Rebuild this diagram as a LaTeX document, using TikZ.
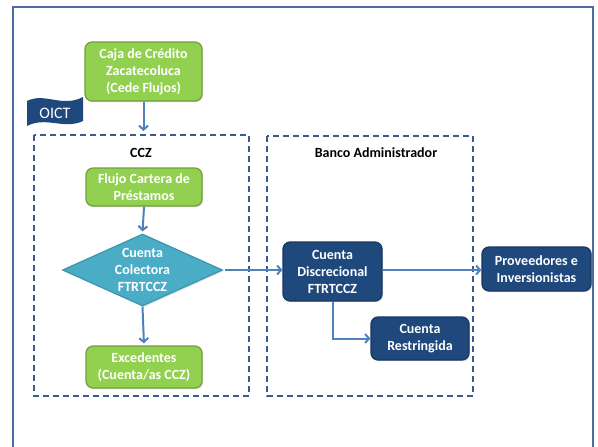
\documentclass[tikz,border=0pt]{standalone}
\usepackage{fontspec}
\setmainfont{Carlito}
\usetikzlibrary{shapes.geometric,arrows.meta,shadows}
\definecolor{gfill}{HTML}{92D050}
\definecolor{gline}{HTML}{71A03A}
\definecolor{bfill}{HTML}{1F497D}
\definecolor{bline}{HTML}{17375E}
\definecolor{tfill}{HTML}{4BACC6}
\definecolor{tline}{HTML}{3A95AE}
\definecolor{arr}{HTML}{4F81BD}
\definecolor{frame}{HTML}{4A6C9E}
\definecolor{dash}{HTML}{3A5C8C}
\tikzset{
  base/.style={rounded corners=7pt, line width=1.2pt, align=center, text=white,
    font=\bfseries\fontsize{14}{17}\selectfont, inner sep=2pt,
    drop shadow={opacity=0.25, shadow xshift=1.2pt, shadow yshift=-1.2pt}},
  greenbox/.style={base, fill=gfill, draw=gline},
  bluebox/.style={base, fill=bfill, draw=bline},
  diam/.style={diamond, aspect=2.2, inner sep=0pt, fill=tfill, draw=tline, line width=1.2pt,
    align=center, text=white, font=\bfseries\fontsize{14}{17}\selectfont,
    drop shadow={opacity=0.25, shadow xshift=1.2pt, shadow yshift=-1.2pt}},
  conn/.style={draw=arr, line width=2pt, -{Straight Barb[length=4pt,width=9pt]}},
  group/.style={draw=dash, line width=1.6pt, dash pattern=on 6pt off 4pt},
  grouplabel/.style={font=\bfseries\fontsize{14}{17}\selectfont, text=black},
}
\begin{document}
\begin{tikzpicture}[x=1pt,y=-1pt]
\useasboundingbox (0,0) rectangle (598,447);
\fill[white] (0,0) rectangle (598,447);
\begin{scope}
\clip (0,0) rectangle (598,447);
\draw[frame, line width=1.8pt] (13,460) -- (13,7) -- (593,7) -- (593,460);
\end{scope}

% group boxes
\draw[group] (34,135) rectangle (249,396);
\draw[group] (267,136) rectangle (473,396);
\node[grouplabel] (lccz) at (141,153) {CCZ};
\node[grouplabel] (lbanco) at (376,153) {Banco Administrador};

% OICT banner
\fill[bfill] (27,101) .. controls (45,92) and (62,108) .. (83,97) -- (83,121)
  .. controls (64,130) and (46,116) .. (27,126) -- cycle;
\node[text=white, font=\fontsize{16}{18}\selectfont] (oict) at (55,113) {OICT};

% nodes
\node[greenbox, minimum width=117pt, minimum height=59pt] (caja) at (143.5,71.5)
  {Caja de Crédito\\Zacatecoluca\\(Cede Flujos)};
\node[greenbox, minimum width=116pt, minimum height=38pt] (flujo) at (144,187)
  {Flujo Cartera de\\Préstamos};
\node[diam, minimum width=160pt, minimum height=72pt] (col) at (142.5,270)
  {Cuenta\\Colectora\\FTRTCCZ};
\node[greenbox, minimum width=116pt, minimum height=42pt] (exc) at (144,367)
  {Excedentes\\(Cuenta/as CCZ)};
\node[bluebox, minimum width=99pt, minimum height=59pt] (disc) at (332.5,271.5)
  {Cuenta\\Discrecional\\FTRTCCZ};
\node[bluebox, minimum width=109pt, minimum height=44pt] (prov) at (536.5,269)
  {Proveedores e\\Inversionistas};
\node[bluebox, minimum width=98pt, minimum height=43pt] (restr) at (420,338.5)
  {Cuenta\\Restringida};

% connectors
\coordinate (cczin) at (143.5,131);
\draw[conn] (caja.south) -- (cczin);
\draw[conn, shorten >=2pt] (flujo.south) -- (col.north);
\draw[conn, shorten >=2pt] (col.south) -- (exc.north);
\draw[conn, shorten <=2pt] (col.east) -- (col.east -| disc.west);
\draw[conn] (disc.east |- col.east) -- (prov.west |- col.east);
\draw[conn] (disc.south) |- (restr.west);
\end{tikzpicture}
\end{document}
